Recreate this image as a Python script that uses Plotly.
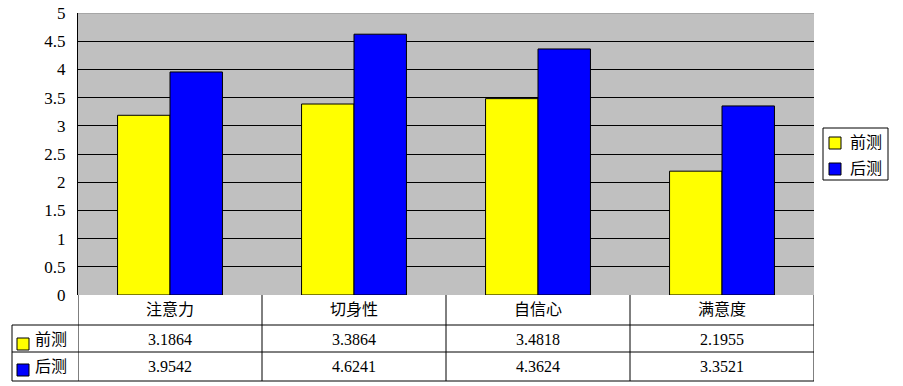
import plotly.graph_objects as go

categories = ["注意力", "切身性", "自信心", "满意度"]
series_names = ["前测", "后测"]
pre_values = [3.1864, 3.3864, 3.4818, 2.1955]
post_values = [3.9542, 4.6241, 4.3624, 3.3521]
pre_labels = ["3.1864", "3.3864", "3.4818", "2.1955"]
post_labels = ["3.9542", "4.6241", "4.3624", "3.3521"]
y_ticks = [0, 0.5, 1, 1.5, 2, 2.5, 3, 3.5, 4, 4.5, 5]
y_ticktext = ["0", "0.5", "1", "1.5", "2", "2.5", "3", "3.5", "4", "4.5", "5"]
colors = ["#FFFF00", "#0000FF"]

FONT = "'Liberation Serif', 'Times New Roman', 'Noto Sans CJK SC', serif"

W, H = 903, 386
ml, mr, mt, mb = 78, 89, 13, 91
ph = H - mt - mb
pw = W - ml - mr

def py(pix):
    return (H - mb - pix) / ph

def px(pix):
    return (pix - ml) / pw

xi = list(range(len(categories)))

fig = go.Figure()
fig.add_trace(go.Bar(x=xi, y=pre_values, name=series_names[0], showlegend=False,
                     marker=dict(color=colors[0], line=dict(color="#000000", width=1))))
fig.add_trace(go.Bar(x=xi, y=post_values, name=series_names[1], showlegend=False,
                     marker=dict(color=colors[1], line=dict(color="#000000", width=1))))

shapes = []
annotations = []
line_col = "#000000"
y_rows = [py(295), py(325), py(352), py(381)]
text_centers = [py(309), py(339), py(366)]

def txt(x, y, s, xref="x", xanchor="center"):
    return dict(x=x, y=y, xref=xref, yref="paper", text=s, xanchor=xanchor, yanchor="middle",
                showarrow=False, font=dict(family=FONT, size=16, color="#000"))

# top border lighter
shapes.append(dict(type="line", xref="paper", yref="y", x0=0, x1=1, y0=5, y1=5,
                   line=dict(color="#8C8C8C", width=1)))
# horizontal lines
for yy in y_rows[1:]:
    shapes.append(dict(type="line", xref="paper", yref="paper", x0=px(12), x1=1, y0=yy, y1=yy,
                       line=dict(color=line_col, width=1)))
# vertical lines
for b in [-0.5, 0.5, 1.5, 2.5, 3.5]:
    shapes.append(dict(type="line", xref="x", yref="paper", x0=b, x1=b, y0=y_rows[0], y1=y_rows[3],
                       line=dict(color=line_col, width=1)))
shapes.append(dict(type="line", xref="paper", yref="paper", x0=px(12), x1=px(12), y0=y_rows[1], y1=y_rows[3],
                   line=dict(color=line_col, width=1)))

# header row and value rows
for i, c in enumerate(categories):
    annotations.append(txt(i, text_centers[0], c))
    annotations.append(txt(i, text_centers[1], pre_labels[i]))
    annotations.append(txt(i, text_centers[2], post_labels[i]))

# row labels with keys
key_centers = [py(344), py(370)]
for r, (name, col) in enumerate(zip(series_names, colors)):
    kc = key_centers[r]
    hs = 6 / ph
    shapes.append(dict(type="rect", xref="paper", yref="paper", x0=px(17), x1=px(29), y0=kc - hs, y1=kc + hs,
                       fillcolor=col, line=dict(color="#000", width=1)))
    annotations.append(txt(px(33), text_centers[1 + r], name, xref="paper", xanchor="left"))

# legend box (drawn)
shapes.append(dict(type="rect", xref="paper", yref="paper", x0=px(823), x1=px(888), y0=py(180), y1=py(128),
                   fillcolor="#FFFFFF", line=dict(color="#000", width=1)))
leg_keys = [(137, 149), (163, 175)]
for r, (name, col) in enumerate(zip(series_names, colors)):
    k0, k1 = leg_keys[r]
    shapes.append(dict(type="rect", xref="paper", yref="paper", x0=px(829), x1=px(841), y0=py(k1), y1=py(k0),
                       fillcolor=col, line=dict(color="#000", width=1)))
    annotations.append(txt(px(848), py((k0 + k1) / 2 - 1), name, xref="paper", xanchor="left"))

fig.update_layout(
    width=W, height=H,
    margin=dict(l=ml, r=mr, t=mt, b=mb, pad=0, autoexpand=False),
    paper_bgcolor="#FFFFFF",
    plot_bgcolor="#C0C0C0",
    barmode="group",
    bargap=0.43,
    bargroupgap=0,
    showlegend=False,
    shapes=shapes,
    annotations=annotations,
    xaxis=dict(range=[-0.5, 3.5], showticklabels=False, ticks="", showgrid=False,
               zeroline=False, showline=False, fixedrange=True, automargin=False),
    yaxis=dict(range=[0, 5], tickvals=y_ticks, ticktext=y_ticktext, showgrid=True,
               gridcolor="#000000", gridwidth=1, zeroline=False, showline=True,
               linecolor="#000000", linewidth=1, ticks="outside", ticklen=8,
               tickcolor="rgba(0,0,0,0)",
               tickfont=dict(family=FONT, size=17, color="#000"), fixedrange=True, automargin=False),
)

fig.write_html("out.html", config={"displayModeBar": False},
               post_script="document.body.style.margin='0';document.body.style.overflow='hidden';")
